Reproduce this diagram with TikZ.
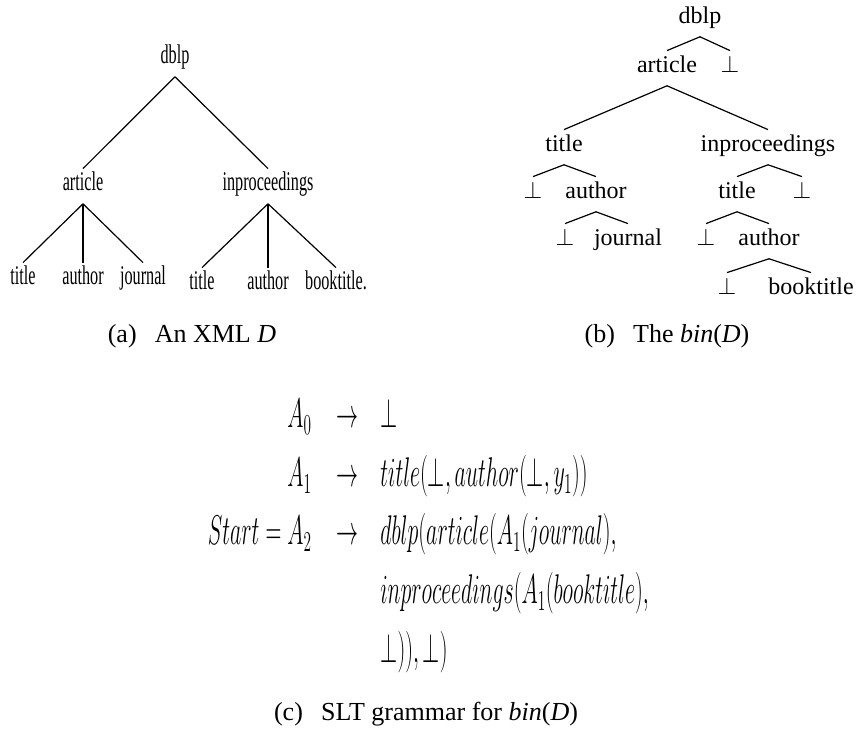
\documentclass[tikz,border=0pt]{standalone}
\usepackage{amsmath}
\usepackage{amssymb}
\usepackage{graphicx}
\usepackage[no-math]{fontspec}
\setmainfont{Liberation Serif}
\newfontfamily\narrowserif[FakeStretch=0.6]{Liberation Serif}
\usepackage{tikz}

\newcommand{\sltrule}[1]{\scalebox{0.53}[1]{$#1$}}

\begin{document}
\begin{tikzpicture}[x=0.5pt, y=-0.5pt,
            xmlnode/.style={font=\narrowserif\fontsize{13.5}{16}\selectfont, anchor=base, inner xsep=1pt, inner ysep=4pt, text height=0.7em, text depth=0.22em},
            binnode/.style={font=\fontsize{12}{14}\selectfont, anchor=base, inner xsep=1pt, inner ysep=4pt, text height=0.7em, text depth=0.22em},
            rulepart/.style={font=\fontsize{20.74}{25}\selectfont, inner sep=0pt},
            subcap/.style={font=\fontsize{13}{15}\selectfont, anchor=base, inner sep=0pt},
            branch/.style={draw=black, line width=0.6pt}]
            \useasboundingbox (0,0) rectangle (857,731);

            % (a) the XML tree
            \node[xmlnode] (xdblp) at (175,64) {dblp};
            \node[xmlnode] (xarticle) at (83,191) {article};
            \node[xmlnode] (xinproc) at (268,191) {inproceedings};
            \node[xmlnode] (xtitleA) at (23,285) {title};
            \node[xmlnode] (xauthorA) at (83,285) {author};
            \node[xmlnode] (xjournal) at (143,285) {journal};
            \node[xmlnode] (xtitleB) at (202,290) {title};
            \node[xmlnode] (xauthorB) at (268,290) {author};
            \node[xmlnode] (xbooktitle) at (336,290) {booktitle.};
            \draw[branch] (xdblp.south) -- (xarticle.north);
            \draw[branch] (xdblp.south) -- (xinproc.north);
            \draw[branch] (xarticle.south) -- (xtitleA.north);
            \draw[branch] (xarticle.south) -- (xauthorA.north);
            \draw[branch] (xarticle.south) -- (xjournal.north);
            \draw[branch] (xinproc.south) -- (xtitleB.north);
            \draw[branch] (xinproc.south) -- (xauthorB.north);
            \draw[branch] (xinproc.south) -- (xbooktitle.north);

            % (b) the binary tree
            \node[binnode] (bdblp) at (700,24) {dblp};
            \node[binnode] (barticle) at (667,73) {article};
            \node[binnode] (bbotA) at (730,73) {$\bot$};
            \node[binnode] (btitleA) at (564,152) {title};
            \node[binnode] (binproc) at (768,152) {inproceedings};
            \node[binnode] (bbotB) at (533,199) {$\bot$};
            \node[binnode] (bauthorA) at (596,199) {author};
            \node[binnode] (bbotC) at (565,246) {$\bot$};
            \node[binnode] (bjournal) at (628,246) {journal};
            \node[binnode] (btitleB) at (737,199) {title};
            \node[binnode] (bbotD) at (802,199) {$\bot$};
            \node[binnode] (bbotE) at (706,246) {$\bot$};
            \node[binnode] (bauthorB) at (769,246) {author};
            \node[binnode] (bbotF) at (727,295) {$\bot$};
            \node[binnode] (bbooktitle) at (811,295) {booktitle};
            \draw[branch] (bbotA.north) -- (bdblp.south) -- (barticle.north);
            \draw[branch] (btitleA.north) -- (barticle.south) -- (binproc.north);
            \draw[branch] (bbotB.north) -- (btitleA.south) -- (bauthorA.north);
            \draw[branch] (bbotC.north) -- (bauthorA.south) -- (bjournal.north);
            \draw[branch] (btitleB.north) -- (binproc.south) -- (bbotD.north);
            \draw[branch] (bbotE.north) -- (btitleB.south) -- (bauthorB.north);
            \draw[branch] (bbotF.north) -- (bauthorB.south) -- (bbooktitle.north);

            % (c) the grammar
            \node[rulepart, anchor=base east] (lhsZero) at (312,428) {\sltrule{A_0}};
            \node[rulepart, anchor=base] (arrZero) at (347,428) {\sltrule{\rightarrow}};
            \node[rulepart, anchor=base west] (rhsZero) at (380,428) {\sltrule{\bot}};
            \node[rulepart, anchor=base east] (lhsOne) at (312,487) {\sltrule{A_1}};
            \node[rulepart, anchor=base] (arrOne) at (347,487) {\sltrule{\rightarrow}};
            \node[rulepart, anchor=base west] (rhsOne) at (380,487) {\sltrule{title(\bot,author(\bot,y_1))}};
            \node[rulepart, anchor=base east] (lhsTwo) at (312,545) {\sltrule{Start=A_2}};
            \node[rulepart, anchor=base] (arrTwo) at (347,545) {\sltrule{\rightarrow}};
            \node[rulepart, anchor=base west] (rhsTwo) at (380,545) {\sltrule{dblp(article(A_1(journal),}};
            \node[rulepart, anchor=base west] (rhsTwoB) at (380,604) {\sltrule{inproceedings(A_1(booktitle),}};
            \node[rulepart, anchor=base west] (rhsTwoC) at (380,663) {\sltrule{\bot)),\bot)}};

            % captions
            \node[subcap] (capA) at (192,343) {(a)\hspace{0.7em}An XML \textit{D}};
            \node[subcap] (capB) at (667,343) {(b)\hspace{0.7em}The \textit{bin}(\textit{D})};
            \node[subcap] (capC) at (426,720) {(c)\hspace{0.7em}SLT grammar for \textit{bin}(\textit{D})};
\end{tikzpicture}
\end{document}
